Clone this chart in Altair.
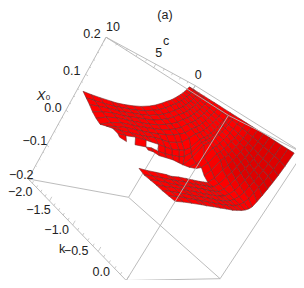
import altair as alt
import pandas as pd
import numpy as np

# camera: (k, c, X0, 1) -> image position
CAMERA = np.array([
    [36.64262, -12.59301, 171.26965, 260.47122],
    [25.79502, -6.40436, -344.80543, 219.51914],
    [-0.08094, -0.02333, -0.13867, 1.0],
])

K_GRID = [-1.9, -1.8, -1.7, -1.6, -1.5, -1.4, -1.3, -1.2, -1.1, -1.05, -1.0,
          -0.9, -0.8, -0.7, -0.6, -0.5, -0.4, -0.3, -0.2, -0.1, 0.0]
C_GRID = [1.15, 1.22, 1.3, 1.4, 1.52, 1.66, 1.82, 2.0, 2.25, 2.6,
          3.0, 3.5, 4.0, 4.75, 5.5, 6.25, 7.0, 7.5, 8.5, 9.3, 10.0]
_ = None
# X0 x 1000, one row per k, one column per c; _ = no solution
X0_TABLE = [
    [190, 189, 180, 173, 165, 158, 151, 143, 134, 125, 114, 102, 93, 83, 76, 71, 67, 66, 64, 63, 63],
    [190, 188, 178, 171, 163, 155, 147, 140, 131, 121, 109, 98, 90, 80, 73, 68, 64, 61, 58, 56, 55],
    [190, 186, 176, 168, 159, 151, 143, 135, 126, 116, 105, 94, 86, 76, 70, 66, 61, 58, 55, 51, 47],
    [190, 185, 174, 165, 157, 148, 139, 131, 122, 113, 101, 90, 82, 73, 67, 63, 58, 55, 52, 46, 38],
    [190, 183, 172, 162, 153, 144, 135, 126, 117, 108, 95, 85, 78, 69, 63, 59, 55, 53, 49, 42, 31],
    [190, 182, 170, 160, 150, 141, 131, 122, 114, 105, 90, 80, 73, 65, 60, 56, 52, 50, 46, 38, 26],
    [190, 180, 168, 157, 147, 137, 127, 117, 109, 100, 84, 75, 68, 61, 56, 52, 49, 47, 44, 38, 32],
    [190, 179, 165, 154, 143, 133, 122, 113, 104, 96, 79, 62, 56, 50, 50, 49, 45, 43, 41, 38, 37],
    [190, 177, 163, 151, 140, 129, 118, 108, 99, 90, 60, 48, 44, 40, 40, 41, 41, 41, 40, 36, 35],
    [190, 176, 162, 150, 138, 127, 115, 105, 96, 86, 50, 35, 30, 28, 26, 27, 30, 28, 25, 26, 31],
    [190, 176, 160, 148, 136, 125, 113, 103, 94, 84, 42, 15, 17, 20, 20, 20, 25, 25, _, _, _],
    [190, 174, 158, 145, 133, 121, 108, 98, 90, 58, 35, 20, _, _, _, _, _, _, _, _, _],
    [190, 172, 155, 141, 128, 116, 103, 92, 83, 52, 35, 28, _, _, _, _, _, _, _, _, _],
    [190, 170, 152, 137, 124, 110, 97, 85, 74, 42, 22, _, _, _, _, _, _, _, _, _, _],
    [190, 168, 149, 134, 120, 105, 91, 75, 58, 30, 14, 12, 11, 10, 9, 8, 5, 6, 5, 4, 4],
    [190, 166, 145, 129, 114, 99, 84, 66, 49, 25, 13, 11, 10, 9, 8, 7, 5, 4, 3, 2, 0],
    [190, 163, 140, 123, 107, 92, 76, 57, 40, 22, 12, 10, 8, 8, 7, 6, 4, 3, 3, 2, 0],
    [190, 160, 136, 117, 101, 84, 68, 49, 33, 20, 12, 9, 7, 6, 5, 5, 4, 3, 3, 1, 0],
    [190, 158, 133, 112, 95, 77, 61, 42, 27, 17, 11, 8, 6, 5, 5, 4, 3, 3, 2, 1, -1],
    [190, 155, 129, 108, 90, 72, 54, 36, 23, 15, 10, 8, 6, 5, 4, 4, 3, 3, 2, 1, -1],
    [190, 150, 122, 100, 80, 60, 40, 24, 17, 12, 9, 7, 5, 5, 4, 4, 3, 3, 2, 1, -1],
]
# small tears: (k row, c column) of cells with no solution
TEARS = [(8, 15), (8, 16), (8, 18)]

Z_TICKS = [0.2, 0.1, 0.0, -0.1, -0.2]
Z_LABELS = ["0.2", "0.1", "0.0", "\u22120.1", "\u22120.2"]
Z_DX = [-14, -14, -13, -12, -7]
Z_DY = [-3, -3, -2, -4, -4]
K_TICKS = [-2.0, -1.5, -1.0, -0.5, 0.0]
K_LABELS = ["\u22122.0", "\u22121.5", "\u22121.0", "\u22120.5", "0.0"]
K_DX = [-8, -11, -16, -22, -25]
K_DY = [13, 9, 5, 0, -9]
C_TICKS = [10, 5, 0]
C_LABELS = ["10", "5", "0"]
C_DX = [7, 3, 3]
C_DY = [-10, -11, -11]

def proj(k, c, z):
    h = CAMERA @ np.array([k, c, z, 1.0])
    return float(h[0] / h[2]), float(h[1] / h[2])

def shade(k, z):
    a = min(max((z - 0.03) / 0.05, 0.0), 1.0) * min(max((k + 0.9) / 0.4, 0.0), 1.0)
    return "#%02x0000" % int(255 - 32 * a)

cells = []
for i in range(len(K_GRID) - 1):
    for j in range(len(C_GRID) - 1):
        if (i, j) in TEARS:
            continue
        corners = [(i, j), (i + 1, j), (i + 1, j + 1), (i, j + 1), (i, j)]
        vals = [X0_TABLE[a][b] for a, b in corners]
        if any(v is None for v in vals):
            continue
        kk = sum(K_GRID[a] for a, _b in corners[:4]) / 4
        zz = sum(vals[:4]) / 4000
        fill = shade(kk, zz)
        for n, (a, b) in enumerate(corners):
            x, y = proj(K_GRID[a], C_GRID[b], X0_TABLE[a][b] / 1000)
            cells.append(dict(cell=f"{i}-{j}", n=n, x=x, y=y, fill=fill))
surface_df = pd.DataFrame(cells)

xs = alt.Scale(domain=[8, 296])
ys = alt.Scale(domain=[282, 9.5])
X = alt.X("x:Q", scale=xs, axis=None)
Y = alt.Y("y:Q", scale=ys, axis=None)

corner = {
    "A": (-2, 10, .2), "B": (-2, 10, -.2), "C": (0, 10, -.2), "D": (0, 0, -.2),
    "E": (-2, 0, -.2), "F": (-2, 0, .2), "G": (0, 0, .2), "H": (0, 10, .2),
}
def edges(names):
    rows = []
    for e in names:
        for n, v in enumerate(e):
            x, y = proj(*corner[v])
            rows.append(dict(edge=e, n=n, x=x, y=y))
    return pd.DataFrame(rows)

def line_layer(df, group, width=0.9, color="#b4b4b4"):
    return alt.Chart(df).mark_line(stroke=color, strokeWidth=width).encode(
        x=X, y=Y, detail=f"{group}:N", order="n:Q")

back = line_layer(edges(["AB", "AF", "FG", "BE", "ED", "EF"]), "edge")
front = line_layer(edges(["AH", "HG", "HC", "CD", "DG", "BC"]), "edge")

surface = alt.Chart(surface_df).mark_line(stroke="#702c2c", strokeWidth=0.6).encode(
    x=X, y=Y, detail="cell:N", order="n:Q",
    fill=alt.Fill("fill:N", scale=None))

tick_rows = []
def add_tick(name, p, q):
    for n, pt in enumerate((p, q)):
        x, y = proj(*pt)
        tick_rows.append(dict(t=name, n=n, x=x, y=y))
for i in range(-10, 11):
    z = i * 0.02
    L = 0.012 if i % 5 == 0 else 0.006
    add_tick(f"z{i}", (-2, 10, z), (-2 + L * 4, 10, z))
for i in range(0, 21):
    k = -i * 0.1
    L = 0.012 if i % 5 == 0 else 0.006
    add_tick(f"k{i}", (k, 10, -.2), (k, 10, -.2 + L))
for i in range(0, 11):
    L = 0.012 if i % 5 == 0 else 0.006
    add_tick(f"c{i}", (-2, i, .2), (-2, i, .2 - L))
ticks = line_layer(pd.DataFrame(tick_rows), "t", 0.7)

labels = []
for v, s, dx, dy in zip(Z_TICKS, Z_LABELS, Z_DX, Z_DY):
    x, y = proj(-2, 10, v)
    labels.append(dict(x=x + dx, y=y + dy, s=s))
for v, s, dx, dy in zip(K_TICKS, K_LABELS, K_DX, K_DY):
    x, y = proj(v, 10, -.2)
    labels.append(dict(x=x + dx, y=y + dy, s=s))
for v, s, dx, dy in zip(C_TICKS, C_LABELS, C_DX, C_DY):
    x, y = proj(-2, v, .2)
    labels.append(dict(x=x + dx, y=y + dy, s=s))

FONT = "Liberation Sans"
def text_layer(rows, size=12.5, style="normal"):
    return alt.Chart(pd.DataFrame(rows)).mark_text(
        font=FONT, fontSize=size, fontStyle=style, color="#222222",
        align="center", baseline="middle").encode(x=X, y=Y, text="s:N")

tick_text = text_layer(labels)
names = text_layer([dict(x=62, y=251, s="k"), dict(x=166, y=43, s="c"), dict(x=165, y=17, s="(a)")])
x0a = text_layer([dict(x=41, y=98, s="X")], 13, "italic")
x0b = text_layer([dict(x=48, y=100, s="0")], 8)

chart = alt.layer(back, surface, front, ticks, tick_text, names, x0a, x0b).properties(
    width=288, height=272, padding=0, autosize=alt.AutoSizeParams(type="none")
).configure_view(stroke=None)

chart.save("out.html", embed_options={"renderer": "svg", "actions": False})
